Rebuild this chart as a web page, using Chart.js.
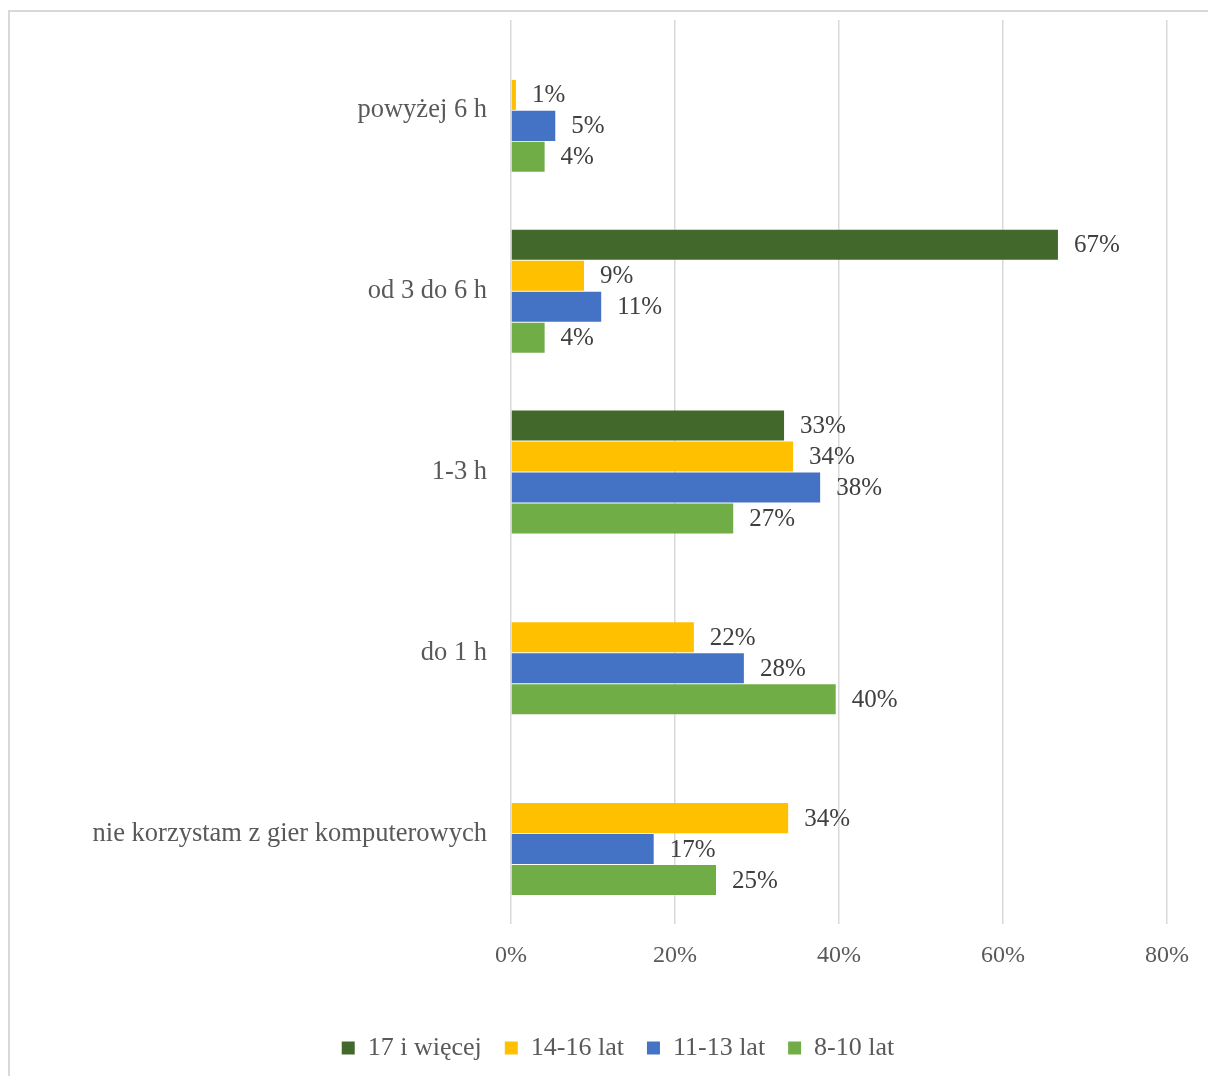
<!DOCTYPE html>
<html>
<head>
<meta charset="utf-8">
<script src="https://cdn.jsdelivr.net/npm/chart.js@4"></script>
<style>
    html, body { margin: 0; padding: 0; background: #fff; overflow: hidden; }
    #frame { position: absolute; left: 8px; top: 10px; width: 1300px; height: 1200px; border: 2px solid #d9d9d9; }
    #wrap { position: absolute; left: 0; top: 0; width: 1208px; height: 1076px; }
</style>
</head>
<body>
<div id="frame"></div>
<div id="wrap"><canvas id="chart"></canvas></div>
<script>
// categories top to bottom
const categories = ["powyżej 6 h", "od 3 do 6 h", "1-3 h", "do 1 h", "nie korzystam z gier komputerowych"];
const seriesNames = ["17 i więcej", "14-16 lat", "11-13 lat", "8-10 lat"];
const seriesColors = ["#43682b", "#ffc000", "#4472c4", "#70ad47"];

const age17plus = [null, 66.7, 33.3, null, null];
const age14to16 = [0.6, 8.9, 34.4, 22.3, 33.8];
const age11to13 = [5.4, 11.0, 37.7, 28.4, 17.4];
const age8to10 = [4.1, 4.1, 27.1, 39.6, 25.0];
const seriesValues = [age17plus, age14to16, age11to13, age8to10];

const xTicks = [0, 20, 40, 60, 80];

const serif = "'Liberation Serif', 'Times New Roman', serif";

// draws "NN%" right of each bar end
const valueLabels = {
    id: "valueLabels",
    afterDatasetsDraw(chart) {
        const ctx = chart.ctx;
        ctx.save();
        ctx.font = "25px " + serif;
        ctx.fillStyle = "#404040";
        ctx.textAlign = "left";
        ctx.textBaseline = "middle";
        chart.data.datasets.forEach((ds, i) => {
            chart.getDatasetMeta(i).data.forEach((bar, j) => {
                const v = ds.data[j];
                if (v == null) return;
                ctx.fillText(Math.round(v) + "%", bar.x + 16, bar.y + 1);
            });
        });
        ctx.restore();
    }
};

const datasets = seriesNames.map((name, i) => ({
    label: name,
    data: seriesValues[i],
    backgroundColor: seriesColors[i],
    borderWidth: 0,
    categoryPercentage: 0.685,
    barPercentage: 0.97,
}));

new Chart(document.getElementById("chart"), {
    type: "bar",
    data: { labels: categories, datasets },
    plugins: [valueLabels],
    options: {
        indexAxis: "y",
        responsive: true,
        maintainAspectRatio: false,
        animation: false,
        layout: { padding: { left: 69, right: 41, top: 20, bottom: 5 } },
        plugins: {
            tooltip: { enabled: false },
            legend: {
                position: "bottom",
                labels: {
                    boxWidth: 13,
                    boxHeight: 13,
                    padding: 23,
                    color: "#595959",
                    font: { family: serif, size: 26 },
                },
            },
        },
        scales: {
            x: {
                min: 0,
                max: 80,
                afterBuildTicks: s => { s.ticks = xTicks.map(v => ({ value: v })); },
                afterFit: s => { s.height = 88; },
                grid: { color: "#d9d9d9", lineWidth: 1.5, drawTicks: false },
                border: { display: false },
                ticks: {
                    padding: 17,
                    color: "#595959",
                    font: { family: serif, size: 24 },
                    callback: v => v + "%",
                },
            },
            y: {
                afterFit: s => {
                    s.width = 511 - 69;
                    s.paddingTop = 0;
                    s.paddingBottom = 0;
                },
                grid: { display: false, drawTicks: false },
                border: { display: false },
                ticks: {
                    padding: 24,
                    color: "#595959",
                    font: { family: serif, size: 26.5 },
                },
            },
        },
    },
});
</script>
</body>
</html>
